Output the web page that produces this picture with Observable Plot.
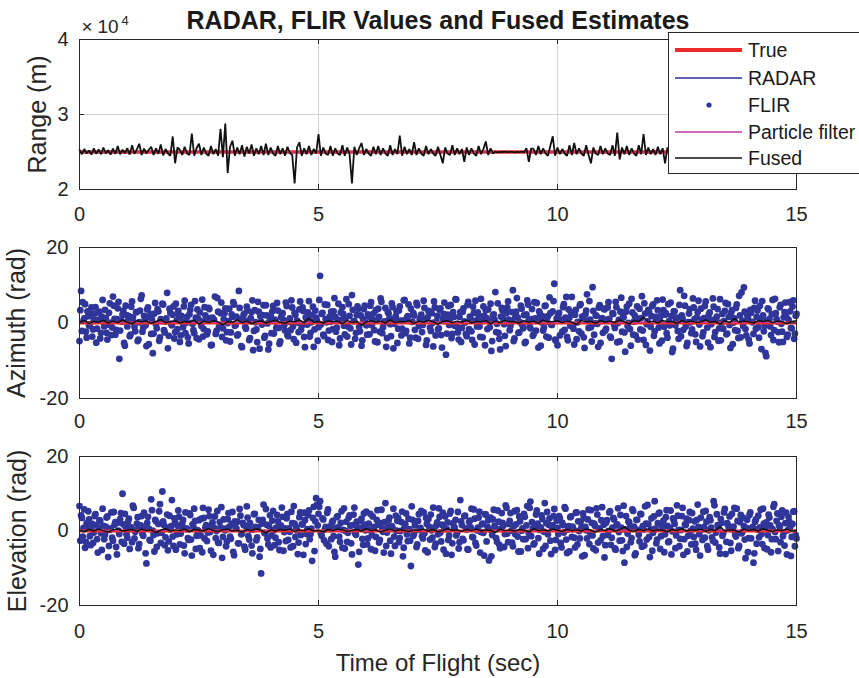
<!DOCTYPE html>
<html>
<head>
<meta charset="utf-8">
<script src="https://cdn.jsdelivr.net/npm/d3@7"></script>
<script src="https://cdn.jsdelivr.net/npm/@observablehq/plot@0.6"></script>
<style>
  html, body { margin: 0; padding: 0; background: #fff; }
  #chart { position: relative; width: 859px; height: 678px; background: #fff; overflow: hidden; }
  #chart svg { position: absolute; left: 0; }
</style>
</head>
<body>
<div id="chart"></div>
<script>
// ---------- data ----------
const titleText = "RADAR, FLIR Values and Fused Estimates";
const xLabel = "Time of Flight (sec)";
const panelLabels = ["Range (m)", "Azimuth (rad)", "Elevation (rad)"];
const legendLabels = ["True", "RADAR", "FLIR", "Particle filter", "Fused"];
const xTicks = [0, 5, 10, 15];
const rangeTicks = [20000, 30000, 40000];
const angleTicks = [-20, 0, 20];

const trueRange = 25000, trueAz = 0, trueEl = 0;
const pfRange = 25000, pfAz = 0.15, pfEl = 0.1;

// fused range estimate (m), sampled every 0.05 s
const rangeStep = 0.05;
const fusedRange = [
25300,24700,25400,24800,25200,24650,25500,24750,25350,24700,25600,24800,25250,24650,25450,24750,25800,24700,25300,24850,
25500,24650,25900,24750,25350,26100,24600,25450,24800,25300,25700,24600,25500,24750,26000,24550,25400,24800,24500,27070,
23500,25600,25300,24600,25700,24800,24600,27450,24500,25500,26100,24600,25600,24800,24500,25800,24700,25400,24500,28100,
24300,28800,22200,25700,26500,24500,25600,24700,25900,24400,25700,24800,26000,24500,25500,24700,25800,24600,26100,24600,
25600,24800,24500,25800,24700,25500,24500,25700,24900,24600,20800,25600,26300,24500,25500,24700,25800,24600,25400,24800,
27400,24500,25600,24800,24600,25800,24500,25500,24800,24600,25900,24500,25600,24700,20800,25700,24600,25500,26200,24600,
25400,24800,24500,25700,24700,25800,24600,25500,24800,24500,25900,24600,25400,24700,27200,24500,25700,24700,25400,24600,
26300,24600,25500,24800,24500,25800,24700,25400,24800,24500,25700,24600,23500,25600,24800,24600,25900,24600,25500,24700,
25400,23700,25600,24600,25500,24800,24500,25800,24700,25400,26400,24600,25500,24800,25050,24950,25020,25000,25040,24980,
25010,25030,24960,25020,24990,25050,24950,25500,23700,25500,25400,24600,25800,24700,25500,24800,24500,25800,27100,24500,
25600,24700,25400,24800,24500,25900,24600,26200,24700,25500,24800,24500,25900,24600,23500,25600,24800,24600,25800,24700,
25500,24800,24600,25900,24500,27600,24000,25600,24700,25800,24600,25500,24800,24500,25900,24700,27400,24600,25600,24700,
25400,24600,25700,24700,25500,23500,25600,24600,25400,24800,24500,25800,24700,25500,24600,25400,25900,24600,25500,24700,
25300,24500,25700,24700,25400,24800,24500,25800,24600,25500,24800,24600,25700,24700,25400,24700,25600,24600,25400,24800,
24600,25600,24700,25500,24800,24500,25700,24700,25400,24800,24600,25600,24700,25500,24800,24600,25500,24700,25400,24800,25300
];

// FLIR azimuth measurements (rad): series A at t = i/30 s, series B at t = (i + 0.5)/30 s
const flirStep = 1 / 30;
const flirAz = [
-4.8,8.5,5.5,1.2,-2.3,3.1,-0.7,2.4,-3.6,0.9,4.2,-1.5,2.8,-4.1,1.7,0.3,3.5,-2.6,-0.4,5.2,-3.2,7.0,1.1,-1.8,3.9,-9.5,0.6,2.2,-5.3,4.6,
-0.9,1.8,-3.1,5.7,0.2,-2.2,2.9,-4.4,3.3,7.3,-1.2,0.8,-6.1,4.1,1.5,-2.9,-8.0,2.5,-0.3,3.7,-4.7,1.0,5.1,-1.9,0.4,8.0,-3.4,2.7,-0.6,4.4,
-2.4,0.7,3.2,-5.0,1.9,-1.1,5.9,0.1,-3.8,2.3,4.8,-0.2,-2.7,1.4,3.6,-4.3,0.5,6.2,-1.6,2.0,-3.0,4.0,1.3,-5.8,0.9,7.0,-2.1,3.0,-0.8,5.4,
-1.4,2.6,-4.6,0.0,3.8,-2.5,1.6,4.9,-0.5,-3.3,8.5,1.1,-6.4,2.2,-1.0,4.3,0.6,-4.0,2.9,-7.2,3.4,-1.7,5.6,-6.8,0.3,2.1,-3.9,4.7,-0.1,-5.5,
1.9,3.1,-2.8,0.4,5.3,-1.3,-4.9,2.6,0.8,-2.0,4.5,-3.5,1.2,6.0,-0.9,2.7,-5.2,0.1,3.6,-1.8,4.1,-3.7,1.5,-0.4,5.8,-2.6,2.0,-6.3,3.3,0.7,
-1.1,12.5,2.4,-3.1,4.9,0.2,-4.5,1.7,3.0,-1.6,6.6,-2.3,0.9,-5.9,2.8,4.2,-0.7,1.3,-3.6,5.0,-1.4,7.4,0.5,-4.2,2.1,3.7,-2.2,-6.0,1.0,4.6,
-0.6,2.3,-3.0,5.5,0.8,-1.9,3.4,-5.1,1.6,6.5,-2.7,0.0,4.0,-4.0,2.5,-0.3,5.2,-6.7,1.2,3.1,-1.5,4.4,-3.3,0.6,6.1,-2.1,1.8,-5.4,3.8,0.3,
2.0,-3.9,4.7,-0.8,1.4,-2.4,5.9,0.9,-4.6,3.2,-1.2,2.6,-6.2,4.1,0.4,-1.7,3.5,-3.2,1.1,5.4,-8.4,2.2,-0.5,4.8,-2.9,1.6,6.3,-1.0,-4.4,2.9,
-1.3,3.9,0.1,-3.5,5.6,1.7,-2.2,4.3,-5.7,0.6,2.8,-0.9,6.4,-3.8,1.9,3.4,-1.6,0.7,5.1,-4.8,2.3,8.2,-0.2,-2.6,-7.0,4.0,1.0,-3.4,2.6,5.7,
-1.9,0.5,8.7,-4.1,3.0,1.5,-2.5,4.6,-0.6,2.1,-5.0,6.0,0.9,-1.4,3.7,-3.0,1.2,5.3,-6.5,2.4,0.2,-2.0,4.5,-3.6,1.8,6.8,-0.4,3.1,10.4,-4.7,
-5.9,2.7,0.8,-2.3,5.0,1.4,-3.7,3.6,-0.7,6.9,-1.5,2.2,-4.3,0.3,4.7,-2.8,1.6,-6.6,3.3,0.6,5.8,-1.1,9.5,-3.1,2.0,-0.2,4.1,-5.3,1.3,3.8,
-2.0,0.9,5.5,-3.6,-9.5,2.4,-1.3,4.2,0.0,-4.9,6.7,1.5,-2.5,3.0,-0.8,5.1,-6.0,2.8,0.4,-3.3,4.4,1.1,-1.7,7.1,-4.5,2.5,-0.3,3.5,-7.3,1.8,
4.9,-2.2,0.7,3.4,-5.4,1.9,6.2,-1.0,2.6,-3.9,0.5,5.4,-7.7,3.1,-0.6,1.4,-4.2,8.7,2.0,-1.8,4.6,-6.1,0.2,3.7,-2.7,6.5,1.0,-5.0,2.9,-0.4,
3.8,-3.5,1.3,5.7,-1.2,2.3,-6.4,0.8,4.3,-2.4,1.7,-4.7,6.3,0.1,-1.5,3.2,-3.0,5.0,-0.5,2.7,-5.6,1.2,4.0,-2.1,7.2,-3.8,0.6,9.4,-1.6,2.2,
-4.4,3.5,0.3,-2.9,5.9,1.6,-1.1,4.5,-6.9,2.0,-0.7,-8.8,3.9,1.0,-3.2,6.1,-1.9,2.6,0.4,-5.1,4.8,-2.3,1.5,5.4,-3.7,0.9,3.1,-1.4,6.0,-2.8,
2.4
];
const flirAzB = [
3.4,-2.1,0.6,5.0,-3.9,1.8,-0.3,4.1,-1.7,2.5,-5.2,0.8,3.0,-2.6,6.1,-0.9,1.3,-4.4,2.7,0.1,-1.2,4.6,-3.1,1.0,5.6,-2.0,0.4,3.3,-6.0,2.1,
0.7,-3.5,4.3,1.5,-1.0,2.9,-4.8,0.2,6.4,-2.3,1.9,-0.6,3.6,-5.6,2.4,0.9,-2.8,5.3,-1.4,3.1,-3.8,0.5,4.9,-2.5,1.2,-6.7,3.8,-0.2,2.2,-4.1,
5.1,-1.6,2.0,-3.3,0.3,4.4,-2.7,1.6,-5.4,3.5,0.0,-1.9,5.8,-4.0,1.1,2.8,-0.8,-3.6,4.2,0.6,-2.2,3.7,-5.9,1.4,0.8,-2.9,6.6,-1.1,2.6,-3.7,
1.0,3.9,-2.4,0.5,-4.9,2.3,5.5,-0.7,1.7,-3.0,4.0,-6.1,0.9,2.5,-1.5,3.4,-4.5,1.3,6.0,-2.1,0.2,-5.1,3.0,1.8,-0.4,4.7,-3.4,2.0,-7.0,0.7,
-2.7,4.5,0.9,-1.3,3.3,-5.5,1.5,2.6,-0.5,5.4,-3.2,0.3,-1.9,4.1,-4.3,2.2,0.6,-2.4,5.7,-0.8,3.2,-6.4,1.1,2.8,-3.6,0.2,4.3,-1.7,1.4,-4.7,
6.1,-0.4,2.7,-3.5,1.0,4.8,-2.0,0.3,-5.0,3.1,1.6,-1.2,5.1,-4.1,0.8,2.4,-3.0,6.3,-0.9,1.9,-5.7,3.5,0.5,-2.6,4.4,-1.0,2.0,-4.6,3.7,0.1,
-3.1,1.7,4.6,-0.6,2.5,-4.9,0.7,3.8,-2.3,5.6,-1.1,0.4,-6.3,2.9,1.2,-3.5,4.2,-0.2,1.8,-5.3,3.3,0.6,-1.5,6.0,-2.7,1.4,4.9,-3.9,0.3,2.6,
-1.8,5.3,-4.2,0.9,2.2,-0.5,4.0,-5.8,1.5,3.1,-2.1,0.0,5.7,-3.3,1.9,-1.4,3.9,-6.5,2.4,0.5,-2.8,4.5,1.0,-4.0,2.9,-0.7,6.2,-2.5,1.6,-5.0,
3.0,0.4,-2.9,4.8,-1.6,1.1,-4.5,2.7,5.9,-0.9,2.0,-3.7,0.6,4.4,-5.9,1.3,3.6,-1.1,-7.4,2.1,0.8,-2.4,5.2,-4.2,1.7,3.3,-0.3,-6.1,4.1,0.9,
-0.7,2.9,-4.8,1.5,6.6,-2.6,0.2,3.8,-1.4,-5.3,2.3,4.9,-0.9,1.0,-3.4,5.5,-2.0,0.7,3.1,-6.0,1.8,-1.2,4.6,0.4,-3.9,2.6,-0.5,5.8,-4.4,1.2,
2.1,-3.3,0.6,4.2,-1.8,6.9,-4.6,1.4,2.8,-0.8,-5.7,3.5,0.2,-2.2,5.0,1.7,-3.8,2.3,7.6,-1.3,0.9,-4.9,3.2,-0.1,1.9,-6.3,4.7,0.5,-2.6,3.6,
-1.5,4.1,1.1,-3.9,2.6,-0.4,5.6,-5.1,0.8,3.0,-2.3,1.5,-7.6,4.3,0.0,-1.6,6.4,-3.1,2.0,0.6,-4.4,3.8,1.3,-2.0,5.2,-5.8,0.4,2.9,-1.0,4.5,
-3.4,1.6,6.0,-1.2,0.3,-4.7,3.4,2.2,-2.7,5.0,-0.6,1.8,-6.8,3.1,0.7,-2.1,4.8,-3.5,1.2,7.2,-0.9,-5.3,2.5,0.2,-1.7,4.1,-3.0,1.5,5.9,-6.2,
0.9,-2.5,4.5,1.3,-5.2,2.8,-0.3,6.5,-3.7,1.0,3.7,-1.4,-4.6,2.4,0.5,5.3,-2.8,1.6,-6.6,3.4,0.1,-1.9,4.9,-4.0,2.0,8.1,-0.8,3.0,-3.3,1.4,
-5.4,2.7,0.2,4.0,-1.5,3.3,-3.9,1.1,5.8,-2.2,-7.9,0.6,3.6,-0.9,2.3,-4.5,6.4,1.0,-2.4,4.2,-0.2,-5.0,2.9,1.7,-3.1,5.5,-1.3,4.4,-4.2,1.9
];

// FLIR elevation measurements (rad): series A at t = i/30 s, series B at t = (i + 0.5)/30 s
const flirEl = [
6.7,4.2,-1.5,5.8,-2.9,0.6,3.1,-3.8,1.9,-0.4,4.5,-2.2,0.9,2.7,-5.1,1.4,-1.0,3.6,-7.0,0.3,5.0,-2.6,1.7,-4.3,2.2,-0.8,4.8,10.0,-3.4,1.1,
-1.8,3.3,0.5,-3.0,6.2,-0.2,2.0,-4.6,1.3,4.0,-1.3,0.8,-8.7,3.8,-2.4,8.5,0.1,-5.5,2.6,-0.6,5.3,-3.2,10.6,1.6,-1.7,4.4,-2.8,0.4,8.3,-4.0,
2.3,-0.9,5.5,-3.6,1.0,3.0,-6.0,0.7,-1.9,4.7,-2.3,1.8,6.0,-4.8,0.2,2.9,-1.2,-5.7,3.5,0.9,-2.7,5.7,-0.3,1.5,-6.4,3.9,0.0,-3.1,2.4,6.4,
-1.6,0.6,-4.1,3.2,1.2,-2.1,5.1,-6.5,0.8,2.5,-3.3,4.1,-0.7,1.6,-5.0,6.6,-1.4,2.1,-3.9,0.4,4.6,-2.5,1.0,-6.9,-11.4,3.0,-0.5,5.9,-2.0,1.3,
-4.4,2.8,0.2,-1.8,4.3,-3.0,1.5,6.3,-5.3,0.7,3.4,-2.4,-0.2,5.2,-4.1,2.0,0.9,-6.2,3.7,-1.1,1.8,4.9,-3.5,0.5,5.5,-0.8,-8.0,6.5,2.6,7.0,
4.6,8.0,-1.3,3.1,0.4,-3.4,5.8,1.2,-2.2,2.7,-5.6,0.8,4.0,-1.5,2.2,-4.5,6.1,0.0,-2.9,3.6,1.4,-6.3,4.4,-0.6,2.5,-9.0,0.9,3.3,-3.7,1.7,
5.2,-2.0,0.3,-4.9,3.9,1.1,-1.6,5.6,-3.1,2.1,0.6,-5.8,7.5,-0.4,2.9,-2.6,1.3,6.0,-4.0,0.1,3.5,-1.9,2.4,-6.8,1.0,4.7,-2.7,0.5,-9.4,3.0,
-0.7,2.6,-3.6,4.5,0.8,-1.4,5.0,-5.2,1.9,3.2,-2.3,0.2,6.3,-4.3,1.5,-0.9,3.8,-2.8,4.9,0.7,-6.1,2.3,-1.2,5.4,-3.3,1.1,3.0,-0.5,-4.7,8.3,
1.6,-2.5,4.1,0.4,-5.0,2.8,6.0,-1.7,3.3,-3.9,0.9,5.2,-0.3,2.0,-6.6,4.4,1.2,-7.9,3.6,-1.1,5.7,0.6,-2.9,2.5,-4.6,4.8,1.4,-0.8,6.2,-3.0,
2.7,0.1,-4.1,5.3,1.8,-1.5,3.9,-5.5,0.7,4.6,-2.2,6.7,-0.6,7.9,2.4,-3.6,1.1,5.5,-1.9,0.3,4.2,-4.8,7.5,2.1,-0.9,3.4,-6.2,1.5,5.9,-2.4,
0.8,4.0,-3.2,2.2,-0.4,6.0,-5.9,1.3,3.7,-1.6,0.5,-4.4,5.0,2.6,-2.0,1.0,4.7,-6.5,0.2,3.1,-3.5,5.6,-1.2,2.0,-5.2,4.4,0.6,-2.5,6.4,1.7,
-3.8,2.9,0.0,5.3,-1.8,3.5,-4.7,1.5,6.1,-2.6,0.9,-5.4,-8.5,4.0,-0.7,2.3,-3.0,5.8,1.2,-6.0,3.0,-1.0,4.6,-4.2,0.4,6.6,-2.3,1.9,-7.0,3.4,
-0.5,8.0,-3.3,2.1,4.9,-1.4,0.7,-5.7,3.7,1.4,-2.8,5.5,-0.1,2.8,-4.6,6.9,0.3,-2.1,4.0,-6.4,1.8,3.3,-1.3,5.1,-3.6,0.6,2.6,-5.0,7.1,-0.9,
3.6,-2.4,1.1,5.4,-4.1,0.2,2.9,-1.7,8.0,-3.1,4.5,0.9,-6.1,2.2,-0.6,5.9,-2.9,1.6,3.9,-5.3,0.4,6.2,-1.5,2.7,-4.0,4.3,-0.3,1.3,-7.3,3.0,
-1.9,5.0,0.7,-8.5,2.5,-3.4,4.1,1.0,-0.8,6.0,-4.6,2.3,-1.1,3.6,-5.7,0.5,7.2,-2.2,4.7,1.6,-3.0,5.5,-0.4,2.1,-6.3,3.8,0.9,-1.6,5.2,-4.1,
-2.0
];
const flirElB = [
-2.6,3.5,0.8,-4.5,2.1,5.3,-1.4,0.4,-3.2,4.0,1.6,-5.8,2.9,-0.6,6.0,-2.2,1.2,3.9,-4.0,0.7,-1.8,5.1,2.4,-6.3,0.1,3.2,-2.9,1.8,4.6,-0.9,
2.5,-4.8,1.0,6.8,-2.0,0.3,3.7,-3.5,1.5,-0.8,4.9,-6.0,2.2,0.6,-2.6,5.6,-1.1,3.0,-4.3,1.9,7.2,-0.5,2.6,-3.8,0.9,-5.2,4.1,1.3,-1.5,3.4,
-5.0,1.4,3.8,-0.7,2.0,-3.9,5.0,0.5,-2.4,4.3,-6.6,1.1,2.7,-1.3,0.0,-4.6,3.3,6.2,-2.0,1.6,-0.4,4.0,-5.3,2.3,0.8,-1.9,5.4,-3.2,1.0,-7.2,
3.1,0.2,-2.8,4.8,-1.5,1.9,-5.6,2.6,0.6,-3.3,5.9,-0.9,2.2,-4.2,1.3,3.6,-2.3,0.4,-6.0,4.5,1.1,-1.7,3.0,-4.8,2.0,7.1,-0.6,1.7,-3.6,4.2,
-1.2,5.4,-3.8,0.9,2.6,-5.1,1.4,3.8,-0.3,-2.7,4.6,0.7,-4.4,2.1,6.7,-1.6,0.2,-3.1,5.0,1.8,-6.4,2.9,-0.8,4.3,-2.2,0.6,3.5,-5.4,8.8,1.5,
6.5,-0.7,3.4,-2.5,1.1,4.9,-4.1,0.5,2.3,-1.4,-6.9,3.7,1.0,-2.9,5.3,0.3,-4.7,2.5,-0.5,4.2,-3.3,1.6,6.3,-1.0,0.8,-5.6,2.8,-2.1,4.7,0.2,
-3.6,2.0,4.6,-1.1,0.6,-5.3,3.0,1.7,-2.4,5.7,-0.2,2.4,-4.0,1.2,3.6,-6.1,0.8,-1.5,4.1,2.7,-3.0,0.0,5.2,-4.5,1.9,-0.9,3.3,-2.6,6.6,-1.3,
1.5,-4.3,2.7,0.3,5.4,-2.0,-0.6,3.5,-5.7,1.1,4.4,-1.8,0.9,-3.4,2.3,6.1,-0.4,1.7,-5.0,3.9,0.5,-2.4,4.7,-6.4,2.1,0.8,-1.2,5.1,-3.0,2.6,
-2.1,4.0,0.7,-4.9,2.4,1.0,-1.6,5.8,-3.2,0.2,3.6,-5.8,1.8,-0.5,4.5,-2.8,2.9,0.4,-6.8,3.1,1.4,-1.9,5.5,-3.7,0.6,2.2,-4.3,6.9,-0.7,1.9,
4.8,-3.1,1.3,-0.9,5.6,-5.5,2.6,0.1,-2.2,3.8,1.5,-4.6,6.2,-1.4,0.7,-3.3,4.4,2.0,-6.1,1.0,3.2,-0.2,-4.0,5.1,1.7,-2.6,0.9,4.0,-5.1,2.8,
-0.8,3.3,-4.4,1.6,6.4,-2.3,0.4,-5.5,3.9,1.2,-1.8,4.9,-3.6,0.0,2.5,-6.8,3.5,1.1,-2.0,5.7,-0.5,2.2,-4.7,1.4,6.1,-3.1,0.6,2.9,-1.4,-7.1,
2.2,-1.0,5.0,-3.7,0.9,3.1,-5.0,1.8,-0.3,4.3,-2.5,6.8,0.4,-4.3,2.6,1.0,-1.9,5.4,-6.5,3.0,0.3,-2.8,4.5,1.3,-3.9,2.0,7.0,-1.6,0.5,-5.3,
3.9,0.6,-2.3,4.7,-4.8,1.5,2.8,-0.9,5.6,-3.0,0.8,-6.3,3.4,1.9,-1.2,4.1,-4.1,0.3,6.2,-2.2,1.6,-5.5,2.9,0.0,4.8,-1.6,-3.4,3.0,1.1,-6.6,
0.4,5.2,-1.8,2.5,-5.0,3.7,0.9,-2.6,6.9,-0.4,1.6,-4.4,3.2,-1.3,5.0,-6.2,2.1,0.6,-3.2,4.6,1.2,-1.0,6.0,-4.6,2.4,-0.6,3.6,-2.3,0.8,-5.7,
4.3,-2.0,1.1,-6.0,3.1,0.4,-1.7,5.7,-3.5,2.0,0.7,-4.9,4.4,1.5,-2.2,6.5,-0.3,2.7,-5.4,1.0,3.8,-1.4,-3.9,4.9,0.2,2.5,-6.7,1.9,5.3,-1.1
];

// fused azimuth / elevation estimates (rad), sampled every 0.1 s
const fusedStep = 0.1;
const fusedAz = [
0.3,0.6,-0.1,0.4,0.2,0.7,0.0,0.5,0.1,0.8,
0.2,-0.2,0.6,0.3,0.5,-0.1,0.4,0.9,0.1,0.3,
0.6,0.0,0.4,0.2,0.7,-0.3,0.5,0.1,0.6,0.3,
-0.5,0.4,0.2,0.8,0.1,0.5,-0.2,0.3,0.6,0.0,
0.4,0.7,0.2,-0.1,0.5,0.3,0.8,0.1,1.3,0.2,
0.4,0.0,0.6,0.3,0.5,-0.2,0.7,0.1,0.4,-0.6,
0.3,0.6,0.2,0.5,0.0,0.8,0.1,0.4,0.3,0.6,
-0.1,0.5,0.2,0.7,0.3,-0.3,0.4,0.6,0.1,0.5,
0.2,0.8,0.0,0.4,0.3,0.6,-0.2,0.5,0.1,0.7,
0.3,0.4,0.0,0.6,0.2,0.5,-0.1,0.8,0.3,0.4,
0.6,0.1,0.5,0.2,-0.4,0.7,0.3,0.4,0.0,0.6,
0.2,0.5,0.1,0.8,0.3,-0.2,0.6,0.4,1.6,0.2,
0.5,0.0,0.7,0.3,0.4,-0.1,0.6,0.2,0.5,0.1,
0.3,0.8,0.2,0.4,-0.3,0.6,0.1,1.2,0.2,0.5,
0.3,0.0,0.6,0.4,0.7,0.1,0.5,0.3,-0.2,0.4,
0.6
];
const fusedEl = [
0.2,-0.2,0.4,0.0,0.5,0.1,-0.3,0.3,0.6,0.0,
0.2,0.4,-0.1,0.5,0.1,0.3,-0.4,0.2,0.6,0.0,
0.3,0.1,0.5,-0.2,0.4,0.2,0.0,0.7,0.1,-0.1,
0.3,0.5,0.0,0.2,-0.3,0.4,0.1,0.6,0.2,-0.5,
0.3,0.0,0.4,0.2,0.5,-0.1,0.3,0.1,0.6,0.0,
0.2,-0.2,0.4,0.1,0.5,0.3,-0.1,0.2,0.4,0.0,
0.6,0.1,0.3,-0.3,0.2,0.5,0.0,0.4,0.1,-0.1,
0.3,0.2,0.5,0.0,0.4,-0.2,0.1,0.6,0.2,0.3,
-0.1,0.4,0.1,0.5,0.0,0.3,0.2,-0.4,0.5,0.1,
0.3,0.0,0.4,0.2,-0.2,0.6,0.1,0.3,0.0,0.5,
0.2,-0.1,0.4,0.1,0.3,0.0,0.5,0.2,-0.3,0.4,
0.1,0.6,0.0,0.3,1.1,0.2,-0.1,0.4,0.1,0.5,
0.0,0.3,0.2,-0.2,0.4,0.1,0.6,0.0,0.3,0.2,
0.5,-0.1,0.4,0.1,1.2,0.0,0.3,0.2,-0.3,0.5,
0.1,0.4,0.0,0.6,0.2,-0.1,0.3,0.1,0.5,0.0,
0.2
];

// ---------- styling ----------
const FONT = "'Liberation Sans', Arial, Helvetica, sans-serif";
const AX = "#262626";
const GRID = "#d2d2d2";
const RED = "#ee2b2b";
const BLUE = "#30359a";
const MAGENTA = "#c23a9f";
const BLACK = "#111111";
const W = 859, ML = 79, MR = 63;
const PW = W - ML - MR;

const rangeData = fusedRange.map((v, i) => ({t: i * rangeStep, v}));
const azData = flirAz.map((v, i) => ({t: i * flirStep, v}))
  .concat(flirAzB.map((v, i) => ({t: (i + 0.5) * flirStep, v})));
const elData = flirEl.map((v, i) => ({t: i * flirStep, v}))
  .concat(flirElB.map((v, i) => ({t: (i + 0.5) * flirStep, v})));
const fAzData = fusedAz.map((v, i) => ({t: i * fusedStep, v}));
const fElData = fusedEl.map((v, i) => ({t: i * fusedStep, v}));

function panel({top, height, mt, mb, yDomain, yTicks, yFmt, xPad, label, labelDx, marks, extra = []}) {
  const PH = height - mt - mb;
  const svg = Plot.plot({
    width: W, height,
    marginTop: mt, marginBottom: mb, marginLeft: ML, marginRight: MR,
    style: {fontFamily: FONT, fontSize: "20px", color: AX, background: "transparent", overflow: "visible"},
    x: {domain: [0, 15], label: null},
    y: {domain: yDomain, label: null},
    marks: [
      Plot.gridX({ticks: xTicks, stroke: GRID, strokeOpacity: 1}),
      Plot.gridY({ticks: yTicks, stroke: GRID, strokeOpacity: 1}),
      ...marks,
      Plot.tickX(xTicks, {x: d => d, insetTop: PH - 5, stroke: AX}),
      Plot.tickX(xTicks, {x: d => d, insetBottom: PH - 5, stroke: AX}),
      Plot.tickY(yTicks, {y: d => d, insetRight: PW - 5, stroke: AX}),
      Plot.tickY(yTicks, {y: d => d, insetLeft: PW - 5, stroke: AX}),
      Plot.frame({stroke: AX}),
      Plot.axisX({ticks: xTicks, tickSize: 0, tickPadding: xPad, label: null, fontSize: 20}),
      Plot.axisY({ticks: yTicks, tickSize: 0, tickPadding: 11, tickFormat: yFmt, label: null, fontSize: 20}),
      Plot.text([label], {text: d => d, frameAnchor: "left", textAnchor: "middle", lineAnchor: "middle",
        rotate: -90, dx: labelDx, fontSize: 25, fill: AX}),
      ...extra
    ]
  });
  svg.style.top = top + "px";
  return svg;
}

const chart = document.getElementById("chart");

// Range panel
chart.appendChild(panel({
  top: 0, height: 230, mt: 39, mb: 41,
  yDomain: [20000, 40000], yTicks: rangeTicks, yFmt: d => String(d / 1e4), xPad: 17,
  label: panelLabels[0], labelDx: -42,
  marks: [
    Plot.ruleY([trueRange], {y: d => d, stroke: RED, strokeWidth: 3.5}),
    Plot.ruleY([pfRange], {y: d => d, stroke: MAGENTA, strokeWidth: 1}),
    Plot.line(rangeData, {x: "t", y: "v", stroke: BLACK, strokeWidth: 1.8, strokeLinejoin: "miter"})
  ],
  extra: [
    Plot.text([titleText], {text: d => d, frameAnchor: "top", lineAnchor: "middle", dy: -19, fontSize: 25, fontWeight: "bold", fill: "#1a1a1a"}),
    Plot.text(["\u00d7"], {text: d => d, frameAnchor: "top-left", textAnchor: "start", lineAnchor: "middle", dx: 2, dy: -13, fontSize: 19, fill: AX}),
    Plot.text(["10"], {text: d => d, frameAnchor: "top-left", textAnchor: "start", lineAnchor: "middle", dx: 18, dy: -12.5, fontSize: 19, fill: AX}),
    Plot.text(["4"], {text: d => d, frameAnchor: "top-left", textAnchor: "start", lineAnchor: "middle", dx: 42, dy: -18.5, fontSize: 13, fill: AX})
  ]
}));

// Azimuth panel
chart.appendChild(panel({
  top: 230, height: 205, mt: 17, mb: 37,
  yDomain: [-20, 20], yTicks: angleTicks, yFmt: d => String(d), xPad: 15,
  label: panelLabels[1], labelDx: -63,
  marks: [
    Plot.dot(azData, {x: "t", y: "v", r: 3.4, fill: BLUE, stroke: null}),
    Plot.ruleY([trueAz], {y: d => d, stroke: RED, strokeWidth: 3}),
    Plot.ruleY([pfAz], {y: d => d, stroke: MAGENTA, strokeWidth: 1}),
    Plot.line(fAzData, {x: "t", y: "v", stroke: BLACK, strokeWidth: 1.5})
  ]
}));

// Elevation panel
chart.appendChild(panel({
  top: 440, height: 238, mt: 16, mb: 73,
  yDomain: [-20, 20], yTicks: angleTicks, yFmt: d => String(d), xPad: 18,
  label: panelLabels[2], labelDx: -62,
  marks: [
    Plot.dot(elData, {x: "t", y: "v", r: 3.4, fill: BLUE, stroke: null}),
    Plot.ruleY([trueEl], {y: d => d, stroke: RED, strokeWidth: 3}),
    Plot.ruleY([pfEl], {y: d => d, stroke: MAGENTA, strokeWidth: 1}),
    Plot.line(fElData, {x: "t", y: "v", stroke: BLACK, strokeWidth: 1.5})
  ],
  extra: [
    Plot.text([xLabel], {text: d => d, frameAnchor: "bottom", lineAnchor: "middle", dy: 58, fontSize: 24, fill: AX})
  ]
}));

// Legend
const legendStyles = [
  {kind: "line", color: RED, width: 4},
  {kind: "line", color: "#2b2f8f", width: 1.5},
  {kind: "dot", color: BLUE},
  {kind: "line", color: MAGENTA, width: 1.5},
  {kind: "line", color: BLACK, width: 1.5}
];
const legendRowY = [18, 46, 73, 100, 126];
const leg = d3.create("svg")
  .attr("width", 191).attr("height", 143)
  .style("top", "32px").style("left", "668px");
leg.append("rect").attr("x", 0.5).attr("y", 0.5).attr("width", 220).attr("height", 141)
  .attr("fill", "#fff").attr("stroke", AX).attr("stroke-width", 1);
legendLabels.forEach((lab, i) => {
  const s = legendStyles[i], y = legendRowY[i];
  if (s.kind === "line") {
    leg.append("line").attr("x1", 7).attr("x2", 74).attr("y1", y).attr("y2", y)
      .attr("stroke", s.color).attr("stroke-width", s.width);
  } else {
    leg.append("circle").attr("cx", 41).attr("cy", y).attr("r", 2.6).attr("fill", s.color);
  }
  leg.append("text").attr("x", 80).attr("y", y).attr("dy", "0.35em")
    .attr("font-family", FONT).attr("font-size", 19.5).attr("fill", "#1a1a1a").text(lab);
});
chart.appendChild(leg.node());
</script>
</body>
</html>
